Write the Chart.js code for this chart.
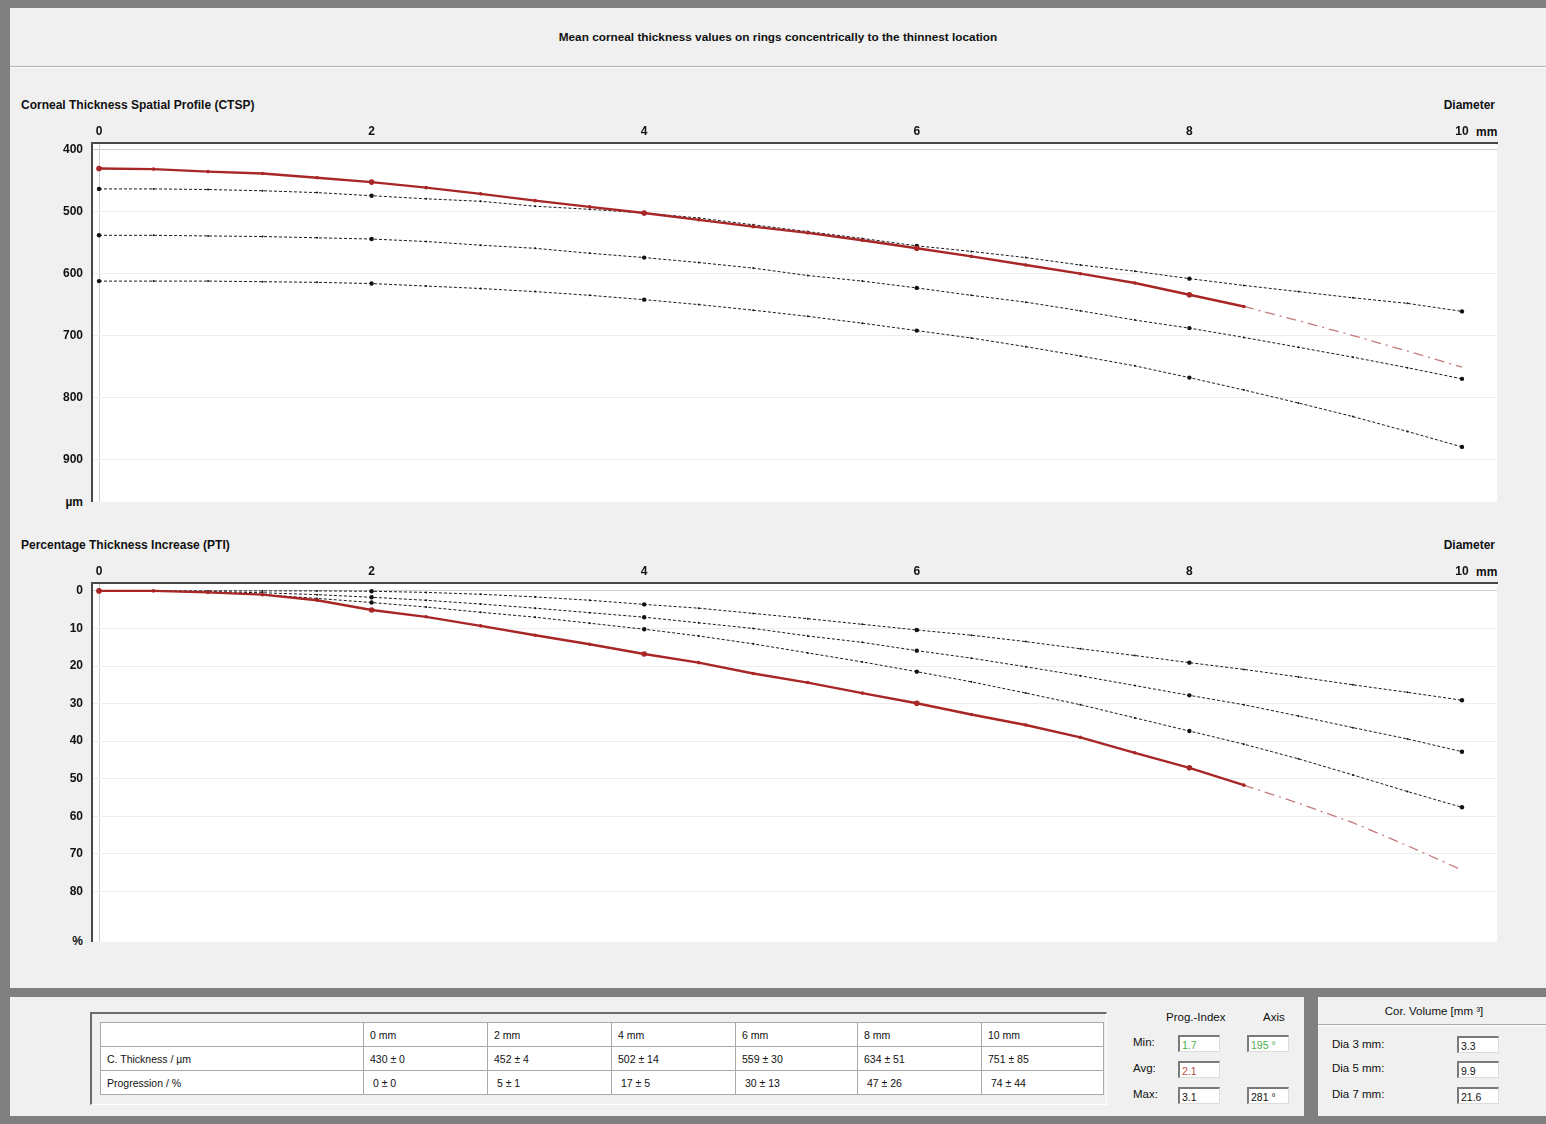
<!DOCTYPE html>
<html>
<head>
<meta charset="utf-8">
<title>CTSP / PTI</title>
<script src="https://cdn.jsdelivr.net/npm/chart.js@4.4.1/dist/chart.umd.min.js"></script>
<style>
  body { margin:0; width:1546px; height:1124px; background:#808080; position:relative; overflow:hidden;
         font-family:"Liberation Sans", Arial, sans-serif; color:#111; }
  .abs { position:absolute; white-space:nowrap; }
  .panel { position:absolute; background:#f0f0f0; }
  .bold { font-weight:bold; }
  .lbl { font-size:12px; font-weight:bold; line-height:14px; }
  table.vals { position:absolute; left:100px; top:1022px; border-collapse:collapse; background:#fff; font-size:10.5px; }
  table.vals td { border:1px solid #a9a9a9; height:23px; padding:0 0 0 6px; }
  .box { position:absolute; width:42px; height:17px; background:#fff; border-top:2px solid #7a7a7a; border-left:2px solid #7a7a7a;
         border-right:1px solid #dcdcdc; border-bottom:1px solid #dcdcdc; font-size:10.5px; line-height:16px; padding-left:2px; box-sizing:border-box; }
  .small { font-size:11.5px; }
</style>
</head>
<body>
<div class="panel" style="left:10px;top:8px;width:1536px;height:980px;"></div>
<div class="abs" style="left:10px;top:66px;width:1536px;height:0;border-top:1px solid #b0b0b0;border-bottom:1px solid #fff;"></div>
<div class="abs bold" style="left:10px;top:30px;width:1536px;text-align:center;font-size:11.8px;">Mean corneal thickness values on rings concentrically to the thinnest location</div>

<div class="abs lbl" style="left:21px;top:98px;">Corneal Thickness Spatial Profile (CTSP)</div>
<div class="abs lbl" style="left:1395px;top:98px;width:100px;text-align:right;">Diameter</div>
<div class="abs lbl" style="left:1476px;top:125px;">mm</div>
<div class="abs lbl" style="left:58px;top:495px;width:25px;text-align:right;">µm</div>
<canvas id="ctsp" class="abs" width="1500" height="400" style="left:10px;top:118px;"></canvas>

<div class="abs lbl" style="left:21px;top:538px;">Percentage Thickness Increase (PTI)</div>
<div class="abs lbl" style="left:1395px;top:538px;width:100px;text-align:right;">Diameter</div>
<div class="abs lbl" style="left:1476px;top:565px;">mm</div>
<div class="abs lbl" style="left:58px;top:934px;width:25px;text-align:right;">%</div>
<canvas id="pti" class="abs" width="1500" height="400" style="left:10px;top:558px;"></canvas>

<!-- bottom panels -->
<div class="panel" style="left:10px;top:997px;width:1294px;height:119px;"></div>
<div class="panel" style="left:1318px;top:997px;width:228px;height:119px;"></div>
<div class="abs" style="left:90px;top:1012px;width:1014px;height:90px;border-top:2px solid #6a6a6a;border-left:2px solid #6a6a6a;border-right:1px solid #fff;border-bottom:1px solid #fff;"></div>
<table class="vals" id="ringTable"></table>

<div class="abs small" style="left:1166px;top:1011px;">Prog.-Index</div>
<div class="abs small" style="left:1263px;top:1011px;">Axis</div>
<div class="abs small" style="left:1133px;top:1036px;">Min:</div>
<div class="abs small" style="left:1133px;top:1062px;">Avg:</div>
<div class="abs small" style="left:1133px;top:1088px;">Max:</div>
<div class="box" id="minVal" style="left:1178px;top:1035px;color:#4bb04b;"></div>
<div class="box" id="minAxis" style="left:1247px;top:1035px;color:#4bb04b;"></div>
<div class="box" id="avgVal" style="left:1178px;top:1061px;color:#c04848;"></div>
<div class="box" id="maxVal" style="left:1178px;top:1087px;"></div>
<div class="box" id="maxAxis" style="left:1247px;top:1087px;"></div>

<div class="abs small" style="left:1318px;top:1005px;width:232px;text-align:center;">Cor. Volume [mm ³]</div>
<div class="abs" style="left:1318px;top:1024px;width:228px;height:0;border-top:1px solid #a8a8a8;border-bottom:1px solid #fff;"></div>
<div class="abs small" style="left:1332px;top:1038px;">Dia 3 mm:</div>
<div class="abs small" style="left:1332px;top:1062px;">Dia 5 mm:</div>
<div class="abs small" style="left:1332px;top:1088px;">Dia 7 mm:</div>
<div class="box" id="vol3" style="left:1457px;top:1036px;"></div>
<div class="box" id="vol5" style="left:1457px;top:1061px;"></div>
<div class="box" id="vol7" style="left:1457px;top:1087px;"></div>

<script>
// ---- data ----
const diam = [0, 0.4, 0.8, 1.2, 1.6, 2, 2.4, 2.8, 3.2, 3.6, 4, 4.4, 4.8, 5.2, 5.6, 6, 6.4, 6.8, 7.2, 7.6, 8, 8.4, 8.8, 9.2, 9.6, 10];
const xTicks = [0, 2, 4, 6, 8, 10];
const ctspTicks = [400, 500, 600, 700, 800, 900];
const ptiTicks = [0, 10, 20, 30, 40, 50, 60, 70, 80];

// CTSP (µm)
const ctspPatient = [430, 431, 435, 438, 445, 452, 461, 471, 482, 492, 502, 513, 524, 534, 546, 559, 572, 586, 600, 615, 634, 653, null, null, null, null];
const ctspExtrap  = [null, null, null, null, null, null, null, null, null, null, null, null, null, null, null, null, null, null, null, null, null, 653, 676, 700, 725, 751];
const ctspNorm1 = [463, 463, 464, 466, 469, 474, 479, 483, 491, 496, 502, 510, 521, 532, 543, 555, 564, 574, 586, 596, 608, 619, 629, 639, 648, 661];
const ctspNorm2 = [538, 538, 539, 540, 542, 544, 548, 554, 559, 567, 574, 582, 591, 603, 612, 623, 635, 646, 660, 675, 688, 703, 719, 735, 752, 770];
const ctspNorm3 = [612, 612, 612, 613, 614, 616, 620, 624, 629, 635, 642, 650, 659, 669, 680, 692, 704, 718, 733, 749, 768, 788, 809, 831, 855, 880];

// PTI (%)
const ptiPatient = [0, 0, 0.4, 1.0, 2.5, 5.1, 6.9, 9.3, 11.8, 14.2, 16.8, 19.1, 22.0, 24.4, 27.2, 29.9, 32.9, 35.7, 39.0, 43.1, 47.1, 51.7, null, null, null, null];
const ptiExtrap  = [null, null, null, null, null, null, null, null, null, null, null, null, null, null, null, null, null, null, null, null, null, 51.7, 56.5, 61.7, 67.8, 74.3];
const ptiNorm1 = [0, 0, 0, 0, 0, 0.1, 0.4, 0.9, 1.6, 2.5, 3.6, 4.6, 6.0, 7.4, 8.9, 10.4, 11.8, 13.5, 15.4, 17.2, 19.1, 20.9, 22.9, 25.0, 27.0, 29.1];
const ptiNorm2 = [0, 0, 0.2, 0.5, 1.0, 1.7, 2.5, 3.5, 4.6, 5.8, 7.0, 8.5, 10.0, 12.0, 13.7, 15.9, 17.9, 20.2, 22.6, 25.2, 27.8, 30.3, 33.3, 36.4, 39.4, 42.8];
const ptiNorm3 = [0, 0, 0.4, 1.0, 2.0, 3.1, 4.3, 5.7, 7.0, 8.6, 10.2, 12.0, 14.1, 16.5, 18.9, 21.5, 24.2, 27.2, 30.3, 33.8, 37.3, 40.8, 44.7, 49.0, 53.4, 57.6];

// table below the charts
const ringLabels = ["0 mm", "2 mm", "4 mm", "6 mm", "8 mm", "10 mm"];
const thickMean = [430, 452, 502, 559, 634, 751];
const thickSd = [0, 4, 14, 30, 51, 85];
const progMean = [0, 5, 17, 30, 47, 74];
const progSd = [0, 1, 5, 13, 26, 44];
const progIndex = { min: "1.7", avg: "2.1", max: "3.1", minAxis: "195 °", maxAxis: "281 °" };
const corVolume = ["3.3", "9.9", "21.6"];

// ---- table + boxes ----
const colW = [256, 117, 117, 117, 115, 117, 115];
let html = "<tr><td style='width:" + colW[0] + "px'></td>";
ringLabels.forEach((r, i) => { html += "<td style='width:" + colW[i + 1] + "px'>" + r + "</td>"; });
html += "</tr><tr><td>C. Thickness / µm</td>";
thickMean.forEach((m, i) => { html += "<td>" + m + " ± " + thickSd[i] + "</td>"; });
html += "</tr><tr><td>Progression / %</td>";
progMean.forEach((m, i) => { html += "<td>&nbsp;" + m + " ± " + progSd[i] + "</td>"; });
html += "</tr>";
document.getElementById("ringTable").innerHTML = html;
document.getElementById("minVal").innerText = progIndex.min;
document.getElementById("avgVal").innerText = progIndex.avg;
document.getElementById("maxVal").innerText = progIndex.max;
document.getElementById("minAxis").innerText = progIndex.minAxis;
document.getElementById("maxAxis").innerText = progIndex.maxAxis;
document.getElementById("vol3").innerText = corVolume[0];
document.getElementById("vol5").innerText = corVolume[1];
document.getElementById("vol7").innerText = corVolume[2];

// ---- charts ----
const FONT = { family: "Liberation Sans", size: 12, weight: "bold" };

function pts(values) {
  return values.map((v, i) => ({ x: diam[i], y: v }));
}
function isMajor(i) { return diam[i] % 2 === 0; }

const whiteArea = {
  id: "whiteArea",
  beforeDraw(chart) {
    const a = chart.chartArea, c = chart.ctx;
    c.save();
    c.fillStyle = "#ffffff";
    c.fillRect(a.left, a.top, a.right - a.left, a.bottom - a.top);
    c.restore();
  }
};

function makeChart(id, patient, extrap, norms, yMin, yMax, yTicks, padBottom) {
  const datasets = [
    {
      data: pts(patient), borderColor: "#a82626", borderWidth: 2.4, backgroundColor: "#a82626",
      pointRadius: c => isMajor(c.dataIndex) ? 2.8 : 1.8, pointBorderWidth: 0, spanGaps: false
    },
    {
      data: pts(extrap), borderColor: "#c47a7a", borderWidth: 1.3, borderDash: [10, 5, 2, 5],
      pointRadius: 0, spanGaps: false
    }
  ];
  norms.forEach(n => datasets.push({
    data: pts(n), borderColor: "#1c1c1c", borderWidth: 1, borderDash: [3, 2], backgroundColor: "#111",
    pointRadius: c => isMajor(c.dataIndex) ? 2.2 : 1.0, pointBorderWidth: 0
  }));

  return new Chart(document.getElementById(id), {
    type: "line",
    data: { datasets: datasets },
    options: {
      responsive: false,
      animation: false,
      layout: { padding: { left: 0, right: 13, top: 0, bottom: padBottom } },
      plugins: { legend: { display: false }, tooltip: { enabled: false } },
      scales: {
        x: {
          type: "linear", position: "top", min: -0.0514, max: 10.257,
          afterBuildTicks: s => { s.ticks = xTicks.map(v => ({ value: v })); },
          afterFit: s => { s.height = 25; },
          ticks: { font: FONT, color: "#111", padding: 4, maxRotation: 0, autoSkip: false },
          grid: { drawTicks: false, color: c => (c.tick && c.tick.value === 0) ? "#cccccc" : "rgba(0,0,0,0)" },
          border: { display: true, color: "#484848", width: 2 }
        },
        y: {
          type: "linear", reverse: true, min: yMin, max: yMax,
          afterBuildTicks: s => { s.ticks = yTicks.map(v => ({ value: v })); },
          afterFit: s => { s.width = 82; },
          ticks: { font: FONT, color: "#111", padding: 9 },
          grid: { drawTicks: false, color: c => (c.tick && c.tick.value === yTicks[0]) ? "#cccccc" : "#ededed" },
          border: { display: true, color: "#484848", width: 2 }
        }
      }
    },
    plugins: [whiteArea]
  });
}

makeChart("ctsp", ctspPatient, ctspExtrap, [ctspNorm1, ctspNorm2, ctspNorm3], 388.8, 968.7, ctspTicks, 12);
makeChart("pti", ptiPatient, ptiExtrap, [ptiNorm1, ptiNorm2, ptiNorm3], -2.1, 93.4, ptiTicks, 11);
</script>
</body>
</html>
